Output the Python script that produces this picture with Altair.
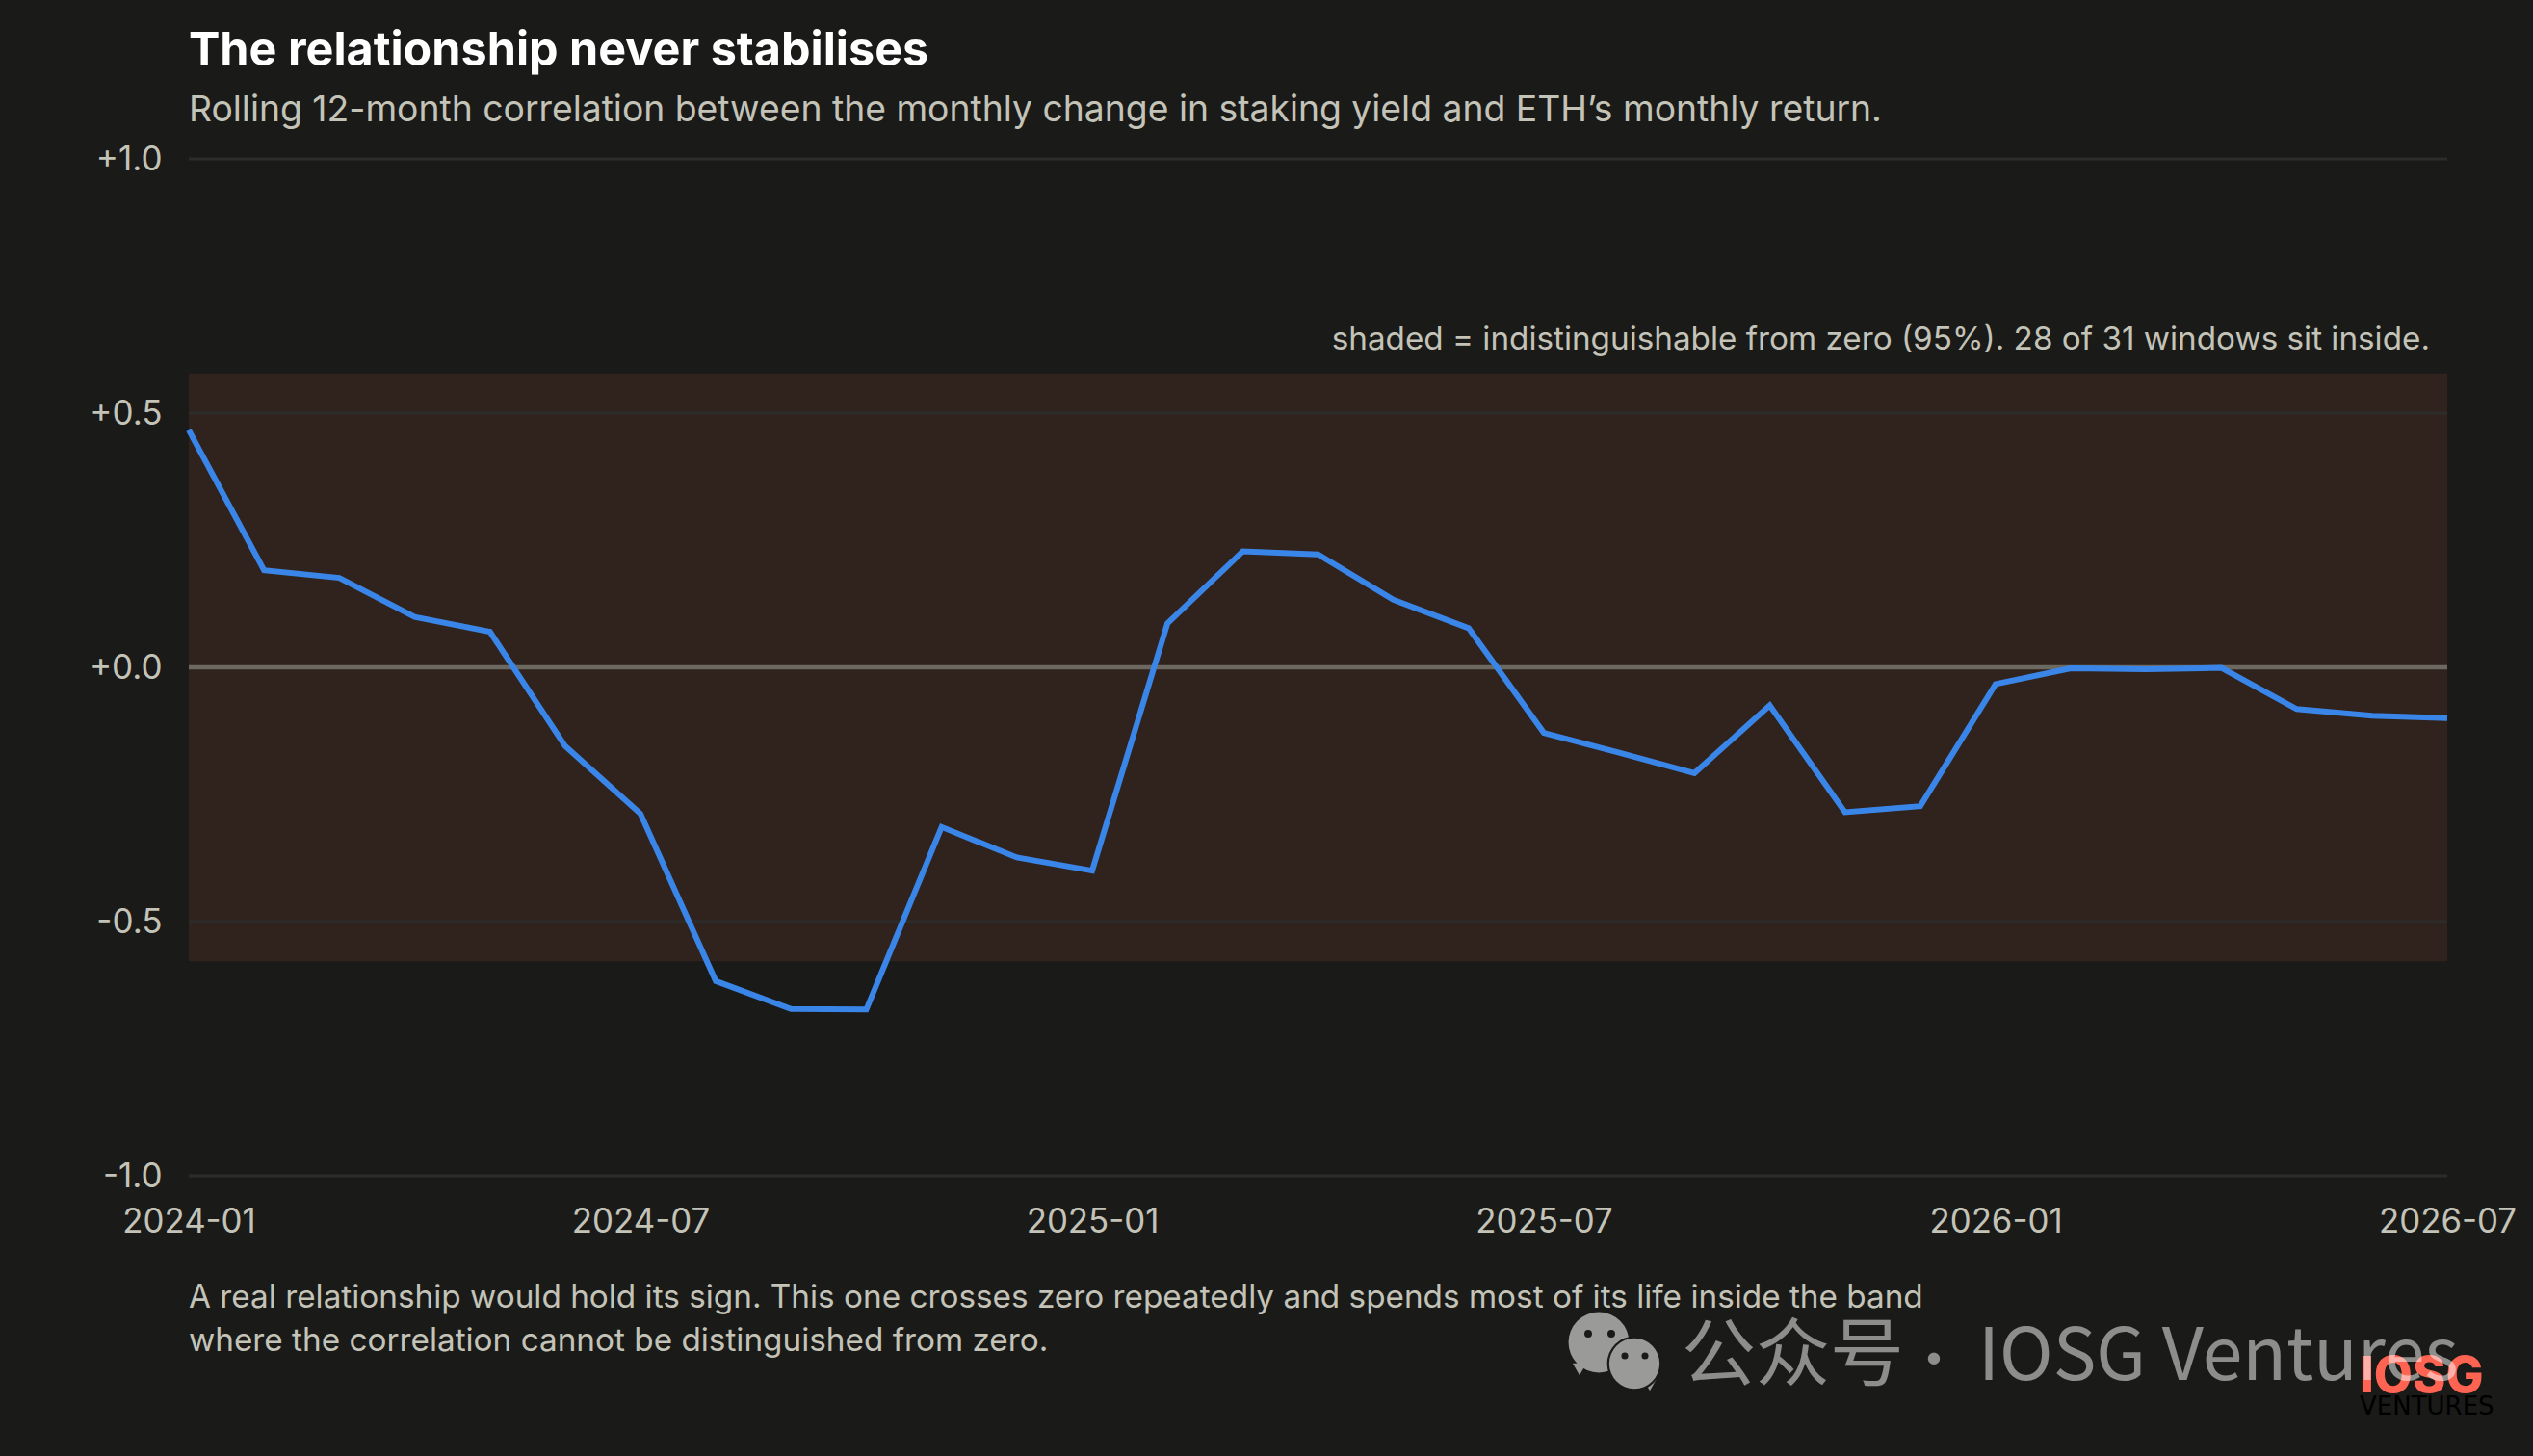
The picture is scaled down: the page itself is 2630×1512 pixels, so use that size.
import altair as alt
import pandas as pd

BG = "#1a1a18"
months = [f"{y}-{m:02d}" for y, m in [(2024, i) for i in range(1, 13)] + [(2025, i) for i in range(1, 13)] + [(2026, i) for i in range(1, 8)]]
corr = [0.4665, 0.191, 0.176, 0.099, 0.070, -0.155, -0.288, -0.617, -0.672, -0.673,
        -0.314, -0.374, -0.400, 0.0865, 0.228, 0.222, 0.133, 0.077, -0.129, -0.168,
        -0.208, -0.075, -0.285, -0.273, -0.033, -0.002, -0.004, -0.001, -0.082, -0.095, -0.100]
x_ticks = ["2024-01", "2024-07", "2025-01", "2025-07", "2026-01", "2026-07"]
y_ticks = [-1.0, -0.5, 0.0, 0.5, 1.0]
band_limit = 0.578
title = "The relationship never stabilises"
subtitle = "Rolling 12-month correlation between the monthly change in staking yield and ETH\u2019s monthly return."
band_note = "shaded = indistinguishable from zero (95%). 28 of 31 windows sit inside."
foot = ["A real relationship would hold its sign. This one crosses zero repeatedly and spends most of its life inside the band",
        "where the correlation cannot be distinguished from zero."]
FONT = "Inter"
TXT = "#c4c3b8"

df = pd.DataFrame({"month": months, "corr": corr})
x_scale = alt.Scale(type="point", padding=0, domain=months)
y_scale = alt.Scale(domain=[-1, 1], nice=False)
x_axis = alt.Axis(values=x_ticks, labelAngle=0, ticks=False, domain=False, grid=False,
                  labelColor=TXT, labelFont=FONT, labelFontSize=34.8, labelPadding=31,
                  labelOverlap=False, labelFlush=False)
y_axis = alt.Axis(values=y_ticks, ticks=False, domain=False, grid=False,
                  labelColor=TXT, labelFont=FONT, labelFontSize=35, labelPadding=28,
                  labelExpr="datum.value >= 0 ? '+' + format(datum.value, '.1f') : '-' + format(-datum.value, '.1f')")

band_df = pd.DataFrame({"month": [months[0], months[-1]], "lo": [-band_limit] * 2, "hi": [band_limit] * 2})
band = alt.Chart(band_df).mark_area(color="#30221c", opacity=1).encode(
    x=alt.X("month:N", sort=months, title=None, scale=x_scale, axis=x_axis),
    y=alt.Y("lo:Q", title=None, scale=y_scale, axis=y_axis), y2="hi:Q")
grid = alt.Chart(pd.DataFrame({"g": y_ticks})).mark_rule(color="#2c2c2a", strokeWidth=3).encode(
    y=alt.Y("g:Q", title=None, scale=y_scale, axis=y_axis))
zero = alt.Chart(pd.DataFrame({"z": [0.0]})).mark_rule(color="#6c6a60", strokeWidth=4.5).encode(
    y=alt.Y("z:Q", title=None, scale=y_scale, axis=y_axis))
line = alt.Chart(df).mark_line(color="#3a86e8", strokeWidth=6, strokeJoin="miter").encode(
    x=alt.X("month:N", sort=months, title=None, scale=x_scale, axis=x_axis),
    y=alt.Y("corr:Q", title=None, scale=y_scale, axis=y_axis))


def txt(s, px, py, size, color, align="left", weight=400, font=FONT, opacity=1.0):
    return alt.Chart(pd.DataFrame({"t": [s]})).mark_text(
        align=align, baseline="alphabetic", fontSize=size, color=color, fontWeight=weight, font=font, opacity=opacity
    ).encode(text="t:N", x=alt.value(px), y=alt.value(py))


def dot(px, py, d, color, shape="circle"):
    return alt.Chart(pd.DataFrame({"s": [1]})).mark_point(filled=True, shape=shape, color=color, opacity=1,
                                                         size=3.1416 * d * d / 4).encode(
        x=alt.value(px), y=alt.value(py))


OX, OY = 196, 165  # plot origin in page pixels
WM = "Noto Sans CJK SC"
ICON = "#9a9a98"
chart = alt.layer(
    band, grid, zero, line,
    txt(band_note, 2327, 198, 33.25, TXT, "right"),
    txt(foot[0], 0, 1193, 33.3, TXT),
    txt(foot[1], 0, 1238, 33.3, TXT),
    txt("IOSG", 2450 - OX, 1446 - OY, 52, "#ff6352", weight=800),
    txt("VENTURES", 2450 - OX, 1469 - OY, 26, "#000000", font="DejaVu Sans"),
    dot(1640 - OX, 1422 - OY, 16, ICON, "triangle-down"),
    dot(1660 - OX, 1394 - OY, 71, ICON),
    dot(1649 - OX, 1385 - OY, 9, BG),
    dot(1673 - OX, 1385 - OY, 9, BG),
    dot(1713 - OX, 1438 - OY, 16, ICON, "triangle-down"),
    dot(1697 - OX, 1416 - OY, 64, BG),
    dot(1697 - OX, 1416 - OY, 59, ICON),
    dot(1687 - OX, 1408 - OY, 8, BG),
    dot(1708 - OX, 1408 - OY, 8, BG),
    txt("\u516c\u4f17\u53f7", 1746 - OX, 1433 - OY, 77, "#ffffff", font=WM, opacity=0.5),
    txt("\u00b7", 2008 - OX, 1433 - OY, 58, "#ffffff", "center", font=WM, opacity=0.5),
    txt("IOSG Ventures", 2054 - OX, 1433 - OY, 75, "#ffffff", font=WM, opacity=0.5),
).properties(
    width=2345, height=1056, background=BG,
    padding={"left": 188, "top": 157, "right": 80, "bottom": 270},
    autosize=alt.AutoSizeParams(type="none"),
    title=alt.TitleParams(title, subtitle=subtitle, anchor="start", frame="group", color="#ffffff",
                          font=FONT, fontSize=48.5, fontWeight=700, subtitleColor=TXT,
                          subtitleFont=FONT, subtitleFontSize=37.3, subtitlePadding=18, offset=14),
).configure_view(stroke=None)
chart.save("out.html", embed_options={"renderer": "svg", "actions": False,
                                      "defaultStyle": "html,body{background:#1a1a18}"})
